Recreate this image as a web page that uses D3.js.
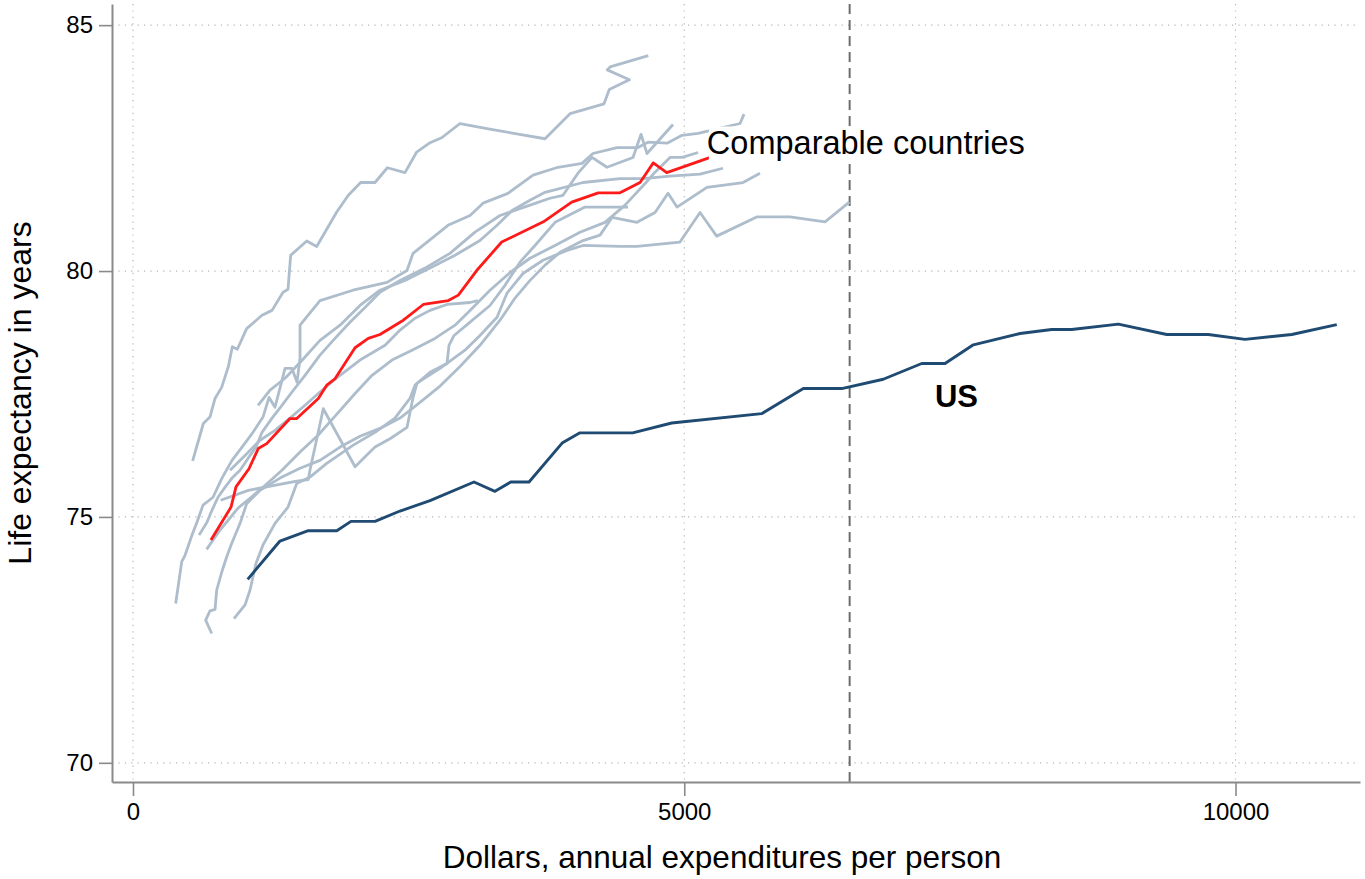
<!DOCTYPE html>
<html>
<head>
<meta charset="utf-8">
<script src="https://cdn.jsdelivr.net/npm/d3@7"></script>
<style>
  html, body { margin: 0; padding: 0; background: #ffffff; }
  svg { display: block; }
  text { font-family: "Liberation Sans", Arial, Helvetica, sans-serif; }
</style>
</head>
<body>
<svg id="chart" width="1365" height="879"></svg>
<script>
// ---------- DATA (dollars per person, life expectancy in years) ----------
const xTicks = [0, 5000, 10000];
const yTicks = [70, 75, 80, 85];
const referenceSpend = 6500;

const usSpend = [1040,1333,1590,1848,1977,2195,2422,2694,3093,3283,3426,3592,3896,4054,4532,4886,5702,6080,6428,6805,7154,7365,7622,8045,8333,8514,8937,9376,9753,10086,10510,10918];
const usLife  = [73.73,74.51,74.72,74.72,74.91,74.91,75.12,75.33,75.71,75.52,75.71,75.71,76.51,76.71,76.71,76.91,77.10,77.61,77.61,77.80,78.12,78.12,78.50,78.73,78.81,78.81,78.92,78.71,78.71,78.61,78.71,78.91];

const avgSpend = [707,889,934,1052,1136,1213,1424,1485,1681,1757,1832,2014,2134,2240,2452,2633,2860,2951,3117,3344,3722,3979,4220,4417,4599,4719,4841,5249];
const avgLife  = [74.53,75.20,75.61,75.98,76.39,76.49,77.00,77.00,77.41,77.68,77.81,78.44,78.63,78.71,79.00,79.32,79.40,79.51,80.01,80.59,81.00,81.40,81.59,81.59,81.80,82.20,82.00,82.32];

// comparable countries: [spend, life expectancy]
const country1 = [[541,76.14],[638,76.90],[698,77.03],[744,77.41],[805,77.64],[864,78.05],[901,78.46],[946,78.41],[1031,78.83],[1170,79.10],[1261,79.20],[1361,79.57],[1406,79.63],[1430,80.32],[1576,80.61],[1666,80.50],[1848,81.20],[1953,81.54],[2065,81.80],[2195,81.80],[2307,82.10],[2467,82.00],[2573,82.42],[2694,82.61],[2800,82.71],[2966,83.00],[3223,82.89],[3737,82.69],[3964,83.20],[4272,83.40],[4320,83.69],[4502,83.89],[4302,84.09],[4327,84.15],[4674,84.38]];
const country2 = [[387,73.24],[442,74.09],[472,74.22],[535,74.63],[580,74.89],[635,75.24],[726,75.40],[807,75.79],[898,76.15],[989,76.42],[1088,76.72],[1179,77.03],[1234,77.43],[1288,77.23],[1379,78.02],[1442,78.02],[1488,77.74],[1515,78.23],[1515,78.90],[1696,79.40],[1995,79.61],[2304,79.77],[2485,80.01],[2540,80.36],[2857,80.93],[3057,81.13],[3175,81.38],[3401,81.58],[3628,81.95],[3855,82.11],[4073,82.19],[4172,82.39],[4390,82.51],[4580,82.51],[4671,82.62],[4844,82.60],[4980,82.76],[5125,82.80],[5506,83.00],[5542,83.19]];
const country3 = [[599,74.63],[671,74.89],[717,75.14],[771,75.40],[834,75.60],[898,75.79],[971,75.95],[1043,76.19],[1116,76.42],[1170,76.72],[1261,77.01],[1351,77.27],[1442,77.54],[1560,77.88],[1696,78.29],[1832,78.63],[1968,78.96],[2104,79.26],[2240,79.57],[2422,79.81],[2649,80.06],[2875,80.36],[3102,80.79],[3329,81.13],[3601,81.34],[3782,81.48],[3900,81.54],[4036,81.99],[4163,82.31],[4299,82.11],[4535,82.31],[4608,82.78],[4662,82.39],[4898,82.98]];
const country4 = [[668,74.34],[726,74.53],[789,74.73],[862,74.93],[952,75.18],[1061,75.38],[1197,75.64],[1351,75.95],[1515,76.32],[1678,76.66],[1841,77.07],[2014,77.51],[2168,77.88],[2349,78.19],[2531,78.39],[2739,78.63],[2921,78.90],[3057,79.20],[3238,79.61],[3420,79.97],[3601,80.26],[3828,80.52],[4054,80.79],[4281,80.99],[4463,81.34],[4653,81.80],[4735,82.01],[4871,82.31],[4980,82.31],[5125,82.41]];
const country5 = [[1134,77.27],[1243,77.58],[1379,77.82],[1515,78.14],[1696,78.59],[1878,78.90],[2059,79.30],[2240,79.61],[2467,79.81],[2694,80.06],[2921,80.32],[3147,80.62],[3302,80.93],[3438,81.23],[3601,81.44],[3737,81.60],[4082,81.80],[4417,81.88],[4626,81.88],[4871,81.93],[5143,81.97],[5351,82.09]];
const country6 = [[714,72.63],[659,72.90],[698,73.09],[744,73.12],[759,73.51],[805,73.88],[850,74.19],[895,74.46],[971,74.87],[1031,75.27],[1152,75.54],[1333,75.79],[1515,75.99],[1696,76.15],[1878,76.42],[2059,76.64],[2240,76.80],[2422,77.01],[2603,77.33],[2785,77.66],[2966,78.06],[3147,78.49],[3329,79.00],[3465,79.45],[3601,79.81],[3737,80.12],[3873,80.38],[4082,80.62],[4236,80.73],[4345,81.09],[4571,80.99],[4735,81.19],[4853,81.58],[4934,81.30],[5206,81.70],[5533,81.80],[5687,81.99]];
const country7 = [[916,72.93],[1016,73.21],[1061,73.51],[1116,74.06],[1179,74.43],[1288,74.87],[1406,75.20],[1485,75.68],[1605,75.81],[1757,76.09],[1998,76.46],[2195,76.72],[2376,77.01],[2512,77.41],[2558,77.68],[2694,77.94],[2848,78.12],[2866,78.49],[2912,78.69],[3057,78.96],[3238,79.30],[3374,79.71],[3510,80.18],[3646,80.52],[3828,80.99],[4100,81.30],[4490,81.30]];
const country8 = [[795,75.34],[1046,75.54],[1485,75.73],[1590,75.76],[1605,75.95],[1726,77.20],[2014,76.02],[2195,76.42],[2331,76.59],[2485,76.82],[2540,77.43],[2576,77.72],[2785,78.02],[3011,78.39],[3147,78.69],[3302,79.06],[3392,79.55],[3537,79.95],[3719,80.22],[3937,80.42],[4082,80.52],[4417,80.50],[4571,80.50],[4961,80.59],[5143,81.19],[5294,80.71],[5657,81.10],[5959,81.10],[6277,81.00],[6497,81.40]];
const country9 = [[880,75.95],[1016,76.25],[1152,76.56],[1288,76.76],[1424,77.01],[1560,77.27],[1696,77.54],[1878,77.88],[2059,78.19],[2286,78.49],[2422,78.80],[2558,79.04],[2694,79.20],[2848,79.32],[3057,79.36],[3129,79.40]];
const comparableCountries = [country1, country2, country3, country4, country5, country6, country7, country8, country9];

const xTitle = "Dollars, annual expenditures per person";
const yTitle = "Life expectancy in years";
const labelComparable = "Comparable countries";
const labelUS = "US";
const labelUSPos = [7274, 77.23];
const labelCompPos = [5205, 82.39];

// ---------- LAYOUT ----------
const svg = d3.select("#chart");
const pLeft = 112, pRight = 1360, pTop = 4, pBottom = 782;

const x = d3.scaleLinear().domain([-190.5, 11129]).range([pLeft, pRight]);
const y = d3.scaleLinear().domain([69.61, 85.43]).range([pBottom, pTop]);

const greyCol = "#adbdcc";
const gridCol = "#b5b5b5";
const axisCol = "#8a8a8a";

// grid
const grid = svg.append("g");
grid.selectAll("line.h").data(yTicks).join("line").attr("class", "h")
  .attr("x1", pLeft).attr("x2", pRight)
  .attr("y1", d => y(d)).attr("y2", d => y(d))
  .attr("stroke", gridCol).attr("stroke-width", 1.2).attr("stroke-dasharray", "1.2,5.2");
grid.selectAll("line.v").data(xTicks).join("line").attr("class", "v")
  .attr("x1", d => x(d)).attr("x2", d => x(d))
  .attr("y1", pTop).attr("y2", pBottom)
  .attr("stroke", gridCol).attr("stroke-width", 1.2).attr("stroke-dasharray", "1.2,5.2");

// dashed reference line
svg.append("line")
  .attr("x1", x(referenceSpend)).attr("x2", x(referenceSpend))
  .attr("y1", pTop).attr("y2", pBottom)
  .attr("stroke", "#6e6e6e").attr("stroke-width", 2).attr("stroke-dasharray", "10,6");

const line = d3.line().x(d => x(d[0])).y(d => y(d[1]));

// comparable countries
svg.append("g").selectAll("path").data(comparableCountries).join("path")
  .attr("d", line).attr("fill", "none")
  .attr("stroke", greyCol).attr("stroke-width", 2.8)
  .attr("stroke-linejoin", "round").attr("stroke-linecap", "butt");

// US
const usData = usSpend.map((d, i) => [d, usLife[i]]);
svg.append("path").datum(usData).attr("d", line).attr("fill", "none")
  .attr("stroke", "#1f4a72").attr("stroke-width", 2.9).attr("stroke-linejoin", "round");

// average of comparable countries
const avgData = avgSpend.map((d, i) => [d, avgLife[i]]);
svg.append("path").datum(avgData).attr("d", line).attr("fill", "none")
  .attr("stroke", "#ff1a1a").attr("stroke-width", 2.8).attr("stroke-linejoin", "round");

// labels
const labelBox = svg.append("rect").attr("fill", "#fff");
const compLabel = svg.append("text")
  .attr("x", x(labelCompPos[0])).attr("y", y(labelCompPos[1]))
  .attr("font-size", 32.5).attr("fill", "#000").text(labelComparable);
const bb = compLabel.node().getBBox();
labelBox.attr("x", bb.x + 2).attr("y", bb.y + 2).attr("width", bb.width).attr("height", bb.height - 2);

svg.append("text")
  .attr("x", x(labelUSPos[0])).attr("y", y(labelUSPos[1]))
  .attr("font-size", 31).attr("font-weight", "bold").attr("fill", "#000").text(labelUS);

// axes
const xAxis = d3.axisBottom(x).tickValues(xTicks).tickSize(14).tickSizeOuter(0).tickPadding(7).tickFormat(d3.format("d"));
const gx = svg.append("g").attr("transform", `translate(0,${pBottom})`).call(xAxis);
gx.select(".domain").attr("stroke", axisCol).attr("stroke-width", 2);
gx.selectAll(".tick line").attr("stroke", axisCol).attr("stroke-width", 1.6);
gx.selectAll(".tick text").attr("font-size", 24).attr("fill", "#000")
  .attr("font-family", "'Liberation Sans', Arial, sans-serif");

const yAxis = d3.axisLeft(y).tickValues(yTicks).tickSize(13).tickSizeOuter(0).tickPadding(6);
const gy = svg.append("g").attr("transform", `translate(${pLeft},0)`).call(yAxis);
gy.select(".domain").attr("stroke", axisCol).attr("stroke-width", 2);
gy.selectAll(".tick line").attr("stroke", axisCol).attr("stroke-width", 1.6);
gy.selectAll(".tick text").attr("font-size", 24).attr("fill", "#000")
  .attr("font-family", "'Liberation Sans', Arial, sans-serif");

// titles
svg.append("text").attr("x", 722).attr("y", 868).attr("text-anchor", "middle")
  .attr("font-size", 31.5).attr("fill", "#000").text(xTitle);
svg.append("text").attr("transform", "translate(31,393) rotate(-90)")
  .attr("text-anchor", "middle").attr("font-size", 32).attr("fill", "#000").text(yTitle);
</script>
</body>
</html>
